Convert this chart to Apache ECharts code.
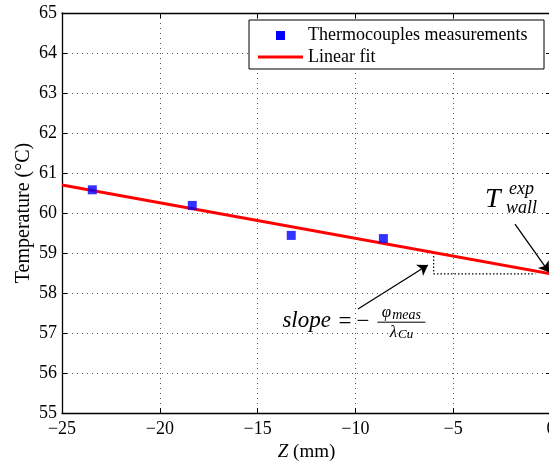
<!DOCTYPE html>
<html>
<head>
<meta charset="utf-8">
<script src="https://cdn.jsdelivr.net/npm/echarts@6/dist/echarts.min.js"></script>
<style>
  html, body { margin: 0; padding: 0; background: #fff; }
  #chart { width: 549px; height: 464px; }
</style>
</head>
<body>
<div id="chart"></div>
<script>
// Thermocouple readings along the block (Z in mm, temperature in °C)
const measZ = [-23.45, -18.34, -13.28, -8.57];
const measT = [60.58, 60.19, 59.44, 59.36];

// End points of the linear fit through the measurements
const fitZ = [-25, 0];
const fitT = [60.70, 58.48];

// Slope triangle under the fit line
const slopeZ = [-6, -6, -0.8];
const slopeT = [59.01, 58.48, 58.48];

// Annotation arrows: [startZ, startT, endZ, endT]
const slopeArrow = [-9.87, 57.60, -6.29, 58.70];
const wallArrow = [-1.84, 59.72, -0.1, 58.52];

const xTicks = [-25, -20, -15, -10, -5, 0];
const yTicks = [55, 56, 57, 58, 59, 60, 61, 62, 63, 64, 65];

const seriesNames = ['Thermocouples measurements', 'Linear fit'];

const SERIF = '"Liberation Serif", "Times New Roman", serif';
const chart = echarts.init(document.getElementById('chart'));

const fmt = v => String(v).replace('-', '\u2212');

const axisCommon = {
  axisLine: { show: true, onZero: false, lineStyle: { color: '#000', width: 1.3 } },
  axisTick: { show: true, inside: true, length: 5, lineStyle: { color: '#000', width: 1 } },
  splitLine: { show: false }
};
const gridDots = { show: true, lineStyle: { color: '#555', type: [1, 4], width: 1 } };

chart.setOption({
  animation: false,
  backgroundColor: '#fff',
  grid: { left: 62, top: 13, right: -2, bottom: 51, outerBoundsMode: 'none', containLabel: false },
  xAxis: [
    Object.assign({}, axisCommon, {
      type: 'value', min: xTicks[0], max: xTicks[xTicks.length - 1], interval: 5,
      position: 'bottom',
      name: '{it|Z} (mm)', nameLocation: 'middle', nameGap: 29,
      nameTextStyle: {
        fontFamily: SERIF, fontSize: 19, color: '#000',
        rich: { it: { fontFamily: SERIF, fontStyle: 'italic', fontSize: 19, color: '#000' } }
      },
      axisLabel: { fontFamily: SERIF, fontSize: 18, color: '#000', margin: 7, formatter: fmt },
      splitLine: gridDots
    }),
    Object.assign({}, axisCommon, {
      type: 'value', min: xTicks[0], max: xTicks[xTicks.length - 1], interval: 5,
      position: 'top', axisLabel: { show: false }
    })
  ],
  yAxis: [
    Object.assign({}, axisCommon, {
      type: 'value', min: yTicks[0], max: yTicks[yTicks.length - 1], interval: 1,
      position: 'left',
      name: 'Temperature (°C)', nameLocation: 'middle', nameGap: 28, nameRotate: 90,
      nameMoveOverlap: false,
      nameTextStyle: { fontFamily: SERIF, fontSize: 20, color: '#000' },
      axisLabel: { fontFamily: SERIF, fontSize: 18, color: '#000', margin: 5 },
      splitLine: gridDots
    }),
    Object.assign({}, axisCommon, {
      type: 'value', min: yTicks[0], max: yTicks[yTicks.length - 1], interval: 1,
      position: 'right', axisLabel: { show: false }
    })
  ],
  series: [
    {
      name: seriesNames[1],
      type: 'line',
      data: fitZ.map((z, i) => [z, fitT[i]]),
      showSymbol: false,
      symbol: 'none',
      lineStyle: { color: '#ff0000', width: 3 },
      z: 3
    },
    {
      name: seriesNames[0],
      type: 'scatter',
      data: measZ.map((z, i) => [z, measT[i]]),
      symbol: 'rect',
      symbolSize: 9,
      itemStyle: { color: '#0000ff' },
      z: 4
    },
    {
      name: 'slope-triangle',
      type: 'line',
      data: slopeZ.map((z, i) => [z, slopeT[i]]),
      showSymbol: false,
      symbol: 'none',
      lineStyle: { color: '#000', width: 1.2, type: [1.5, 2] },
      z: 2
    },
    {
      name: 'arrows',
      type: 'lines',
      coordinateSystem: 'cartesian2d',
      symbol: ['none', 'arrow'],
      symbolSize: 10,
      lineStyle: { color: '#000', width: 1.3, opacity: 1 },
      data: [slopeArrow, wallArrow].map(a => ({ coords: [[a[0], a[1]], [a[2], a[3]]] })),
      z: 5
    }
  ]
});

// Math annotations placed from data coordinates
function px(z, t) { return chart.convertToPixel({ xAxisIndex: 0, yAxisIndex: 0 }, [z, t]); }
const slopeAt = px(-10.0, 57.27);
const wallAt = px(-2.10, 60.33);
const it = { fontFamily: SERIF, fontStyle: 'italic', fill: '#000' };
const legendText = { fontFamily: SERIF, fontSize: 18, fill: '#000', verticalAlign: 'middle' };

chart.setOption({
  graphic: [
    // legend box
    {
      type: 'group', x: 249, y: 20, z: 10,
      children: [
        { type: 'rect', shape: { x: 0, y: 0, width: 295, height: 49 }, style: { fill: '#fff', stroke: '#000', lineWidth: 1 } },
        { type: 'rect', shape: { x: 27, y: 11, width: 9, height: 9 }, style: { fill: '#0000ff' } },
        { type: 'text', x: 59, y: 15, style: Object.assign({ text: seriesNames[0] }, legendText) },
        { type: 'line', shape: { x1: 9, y1: 37, x2: 54, y2: 37 }, style: { stroke: '#ff0000', lineWidth: 3 } },
        { type: 'text', x: 59, y: 37, style: Object.assign({ text: seriesNames[1] }, legendText) }
      ]
    },
    {
      type: 'group', x: slopeAt[0], y: slopeAt[1], z: 10,
      children: [
        { type: 'text', x: -73, y: -1, style: Object.assign({ text: 'slope', fontSize: 23, verticalAlign: 'middle' }, it) },
        { type: 'text', x: -17, y: 0, style: { text: '=', fontFamily: SERIF, fontSize: 23, fill: '#000', verticalAlign: 'middle' } },
        { type: 'text', x: 1, y: 0, style: { text: '\u2212', fontFamily: SERIF, fontSize: 23, fill: '#000', verticalAlign: 'middle' } },
        { type: 'line', shape: { x1: 22, y1: 0, x2: 70, y2: 0 }, style: { stroke: '#000', lineWidth: 1 } },
        {
          type: 'text', x: 46, y: 0,
          style: {
            text: '{a|\u03c6}{b|meas}', align: 'center', verticalAlign: 'bottom',
            rich: {
              a: Object.assign({ fontSize: 17 }, it),
              b: Object.assign({ fontSize: 14, padding: [5, 0, 0, 1] }, it)
            }
          }
        },
        {
          type: 'text', x: 46, y: 1,
          style: {
            text: '{a|\u03bb}{b|Cu}', align: 'center', verticalAlign: 'top',
            rich: {
              a: Object.assign({ fontSize: 17 }, it),
              b: Object.assign({ fontSize: 13, padding: [5, 0, 0, 1] }, it)
            }
          }
        }
      ]
    },
    {
      type: 'group', x: wallAt[0], y: wallAt[1], z: 10,
      children: [
        { type: 'text', x: -25, y: 0, style: Object.assign({ text: 'T', fontSize: 28, verticalAlign: 'middle' }, it) },
        { type: 'text', x: -1, y: -11, style: Object.assign({ text: 'exp', fontSize: 18, verticalAlign: 'middle' }, it) },
        { type: 'text', x: -4, y: 8, style: Object.assign({ text: 'wall', fontSize: 18, verticalAlign: 'middle' }, it) }
      ]
    }
  ]
});
</script>
</body>
</html>
